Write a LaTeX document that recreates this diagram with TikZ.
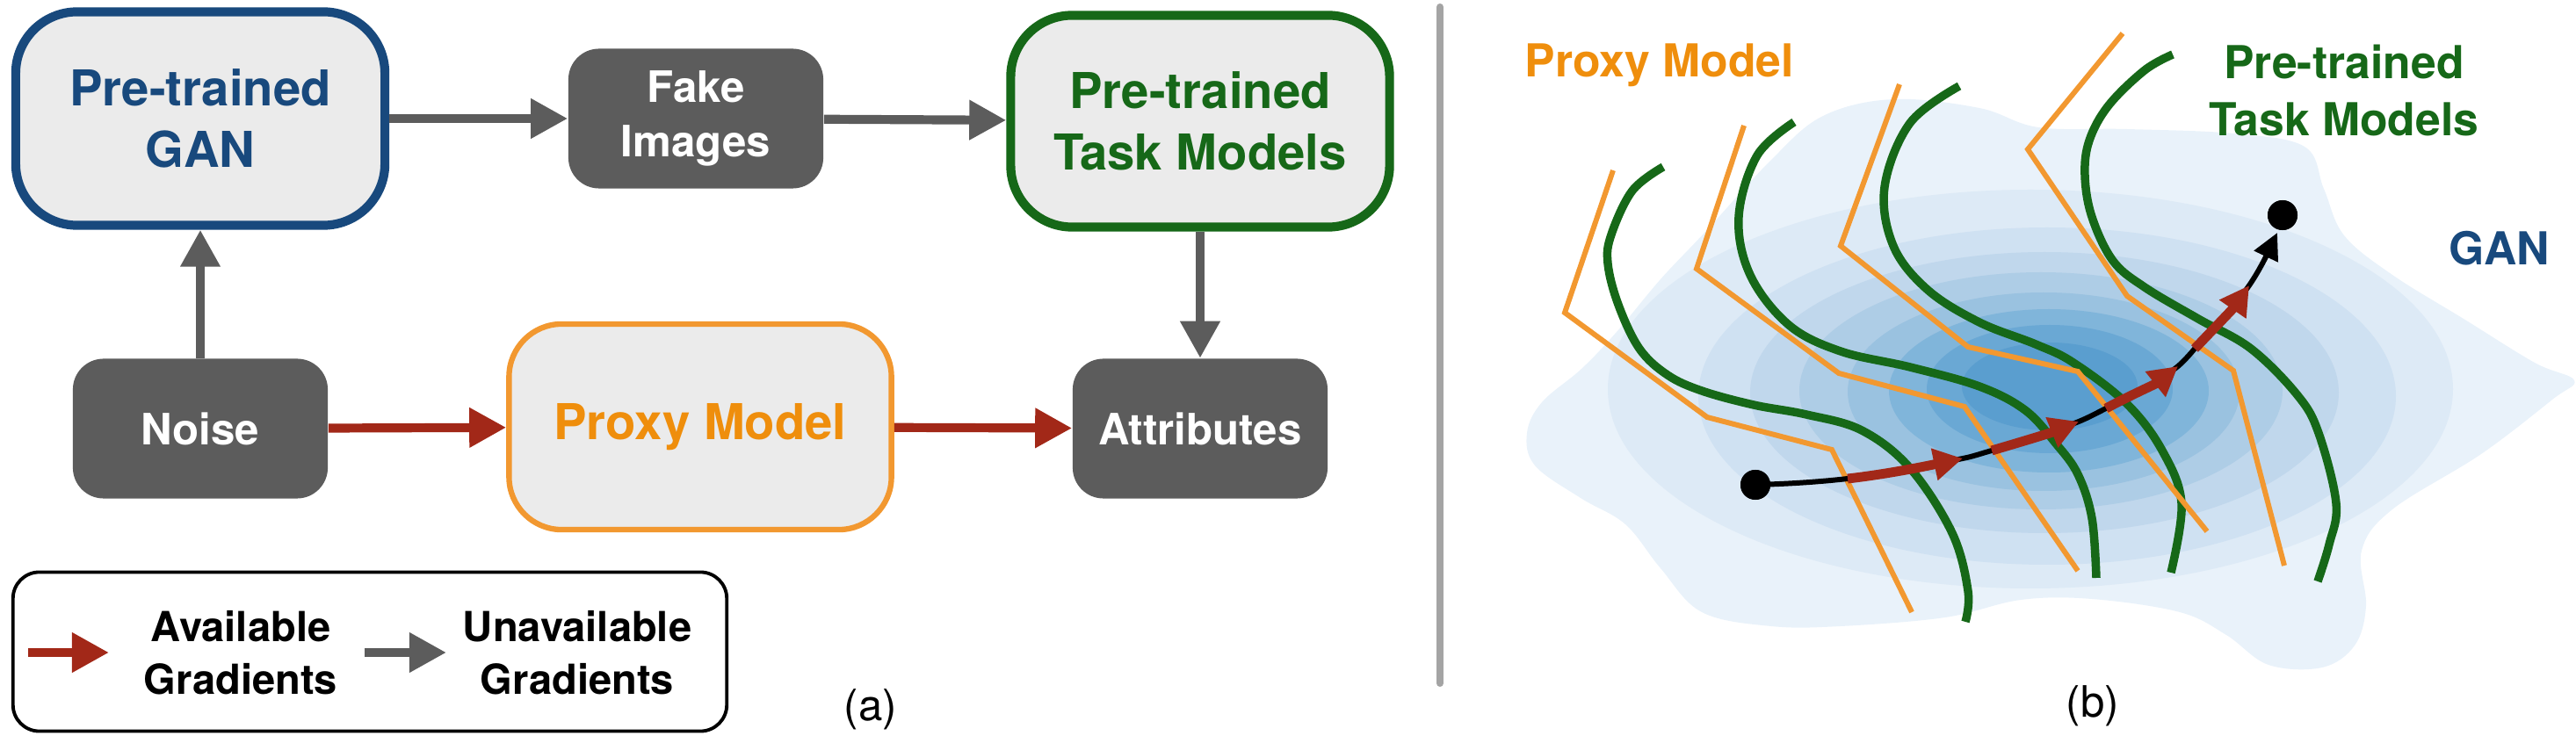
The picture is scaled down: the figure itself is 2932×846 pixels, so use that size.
\documentclass[tikz,border=0pt]{standalone}
\usepackage{fontspec}
\setmainfont{TeX Gyre Heros}
\usetikzlibrary{arrows.meta}
\usetikzlibrary{shapes.geometric,calc}

\definecolor{ganblue}{RGB}{24,73,125}
\definecolor{taskgreen}{RGB}{22,104,24}
\definecolor{proxyorange}{RGB}{239,142,12}
\definecolor{lineorange}{RGB}{242,152,48}
\definecolor{gradred}{RGB}{162,40,24}
\definecolor{boxgray}{RGB}{92,92,92}
\definecolor{boxfill}{RGB}{235,235,235}
\definecolor{rulegray}{RGB}{164,164,164}
\definecolor{levA}{RGB}{233,242,250}
\definecolor{levB}{RGB}{221,234,246}
\definecolor{levC}{RGB}{207,225,242}
\definecolor{levD}{RGB}{192,215,236}
\definecolor{levE}{RGB}{174,205,230}
\definecolor{levF}{RGB}{154,194,224}
\definecolor{levG}{RGB}{128,181,218}
\definecolor{levH}{RGB}{106,168,212}
\definecolor{levI}{RGB}{90,158,207}

\tikzset{
  modelbox/.style={draw, fill=boxfill, line width=2.9pt, rounded corners=0.7cm, inner sep=0pt, align=center, font=\bfseries\fontsize{16pt}{20pt}\selectfont},
  databox/.style={fill=boxgray, text=white, rounded corners=0.35cm, minimum width=2.9cm, minimum height=1.59cm, inner sep=0pt, align=center, font=\bfseries\fontsize{14pt}{17.6pt}\selectfont},
  proxybox/.style={draw=lineorange, fill=boxfill, line width=1.8pt, rounded corners=0.6cm, inner sep=0pt, text=proxyorange, font=\bfseries\fontsize{16pt}{20pt}\selectfont},
  nograd/.style={draw=boxgray, line width=2.9pt, -{Triangle[length=4.2mm, width=4.3mm]}},
  okgrad/.style={draw=gradred, line width=2.9pt, -{Triangle[length=4.2mm, width=4.3mm]}},
  legendtext/.style={align=center, font=\bfseries\fontsize{13.4pt}{17pt}\selectfont},
  paneltag/.style={font=\fontsize{14pt}{17pt}\selectfont},
  labeltext/.style={align=center, font=\bfseries\fontsize{14.7pt}{18.5pt}\selectfont},
  taskline/.style={draw=taskgreen, line width=2.7pt},
  proxyline/.style={draw=lineorange, line width=1.7pt},
  pathline/.style={draw=black, line width=1.7pt},
  gradstep/.style={draw=gradred, line width=3.1pt, -{Triangle[length=3.3mm, width=3.5mm]}},
  endpt/.style={circle, fill=black, minimum size=3.4mm, inner sep=0pt}
}

\begin{document}
\begin{tikzpicture}[x=0.01cm, y=-0.01cm]
	\useasboundingbox (0,0) rectangle (2932,846);

	% (a) pipeline
	\node[modelbox, draw=ganblue, text=ganblue, minimum width=4.2cm, minimum height=2.43cm] (gan) at (228,135) {Pre-trained\\GAN};
	\node[databox] (fake) at (792,135) {Fake\\Images};
	\node[modelbox, draw=taskgreen, text=taskgreen, minimum width=4.31cm, minimum height=2.41cm] (task) at (1366,138) {Pre-trained\\Task Models};
	\node[databox] (noise) at (228,488) {Noise};
	\node[proxybox, minimum width=4.35cm, minimum height=2.34cm] (proxy) at (797,486) {Proxy Model};
	\node[databox] (attr) at (1366,488) {Attributes};

	\draw[nograd] (noise) -- (gan);
	\draw[nograd] (gan) -- (fake);
	\draw[nograd] (fake) -- (task);
	\draw[nograd] (task) -- (attr);
	\draw[okgrad] (noise) -- (proxy);
	\draw[okgrad] (proxy) -- (attr);

	% legend
	\node[draw=black, line width=1.1pt, rounded corners=0.3cm, minimum width=8.12cm, minimum height=1.81cm] (legend) at (421,742) {};
	\coordinate (okA) at (32,743);
	\coordinate (okB) at (124,743);
	\coordinate (noA) at (415,743);
	\coordinate (noB) at (508,743);
	\draw[okgrad] (okA) -- (okB);
	\draw[nograd] (noA) -- (noB);
	\node[legendtext] (oktext) at (274,743) {Available\\Gradients};
	\node[legendtext] (notext) at (657,743) {Unavailable\\Gradients};
	\node[paneltag] (taga) at (991,808) {(a)};

	% divider
	\coordinate (ruleA) at (1639,8);
	\coordinate (ruleB) at (1639,778);
	\draw[rulegray, line width=2.3pt, line cap=round] (ruleA) -- (ruleB);

	% (b) GAN density
	\fill[levA] plot[smooth cycle, tension=0.6] coordinates {(1738,493) (1755,458) (1800,420) (1840,378) (1890,318) (1940,265) (2016,182) (2075,132) (2155,113) (2253,123) (2320,145) (2421,147) (2542,152) (2623,167) (2645,215) (2668,268) (2723,313) (2804,363) (2885,413) (2930,433) (2905,455) (2824,517) (2723,580) (2688,627) (2693,690) (2680,735) (2643,760) (2582,757) (2534,723) (2481,697) (2381,682) (2300,683) (2214,703) (2095,713) (2016,713) (1937,697) (1890,647) (1850,597) (1799,567) (1747,530)};
	\fill[levB] (2311,443) ellipse [x radius=481, y radius=227];
	\fill[levC] (2330,451) ellipse [x radius=397, y radius=192];
	\fill[levD] (2327,447) ellipse [x radius=335, y radius=160];
	\fill[levE] (2323,445) ellipse [x radius=275, y radius=135];
	\fill[levF] (2326,446) ellipse [x radius=223, y radius=113];
	\fill[levG] (2332,445) ellipse [x radius=182, y radius=93];
	\fill[levH] (2333,443) ellipse [x radius=140, y radius=73];
	\fill[levI] (2333,440) ellipse [x radius=100, y radius=50];

	% task model boundaries
	\draw[taskline] plot[smooth, tension=0.6] coordinates {(1893,190) (1858,217) (1834,267) (1830,300) (1842,347) (1866,397) (1898,427) (1937,445) (1996,461) (2056,472) (2119,490) (2174,533) (2222,607) (2240,673) (2237,708)};
	\draw[taskline] plot[smooth, tension=0.6] coordinates {(2042,139) (2000,177) (1979,247) (1992,313) (2036,370) (2095,400) (2174,418) (2253,440) (2305,467) (2340,505) (2365,540) (2381,590) (2386,658)};
	\draw[taskline] plot[smooth, tension=0.6] coordinates {(2230,98) (2174,140) (2145,213) (2155,280) (2194,330) (2253,367) (2317,392) (2360,413) (2421,460) (2461,513) (2483,573) (2471,652)};
	\draw[taskline] plot[smooth, tension=0.6] coordinates {(2473,62) (2441,80) (2400,120) (2378,160) (2373,200) (2381,247) (2405,297) (2441,327) (2502,363) (2562,397) (2615,450) (2639,493) (2659,573) (2651,620) (2638,662)};

	% proxy model boundaries
	\draw[proxyline] (1836,194) -- (1781,356) -- (1943,475) -- (2085,512) -- (2176,697);
	\draw[proxyline] (1985,143) -- (1931,306) -- (2093,425) -- (2236,463) -- (2365,650);
	\draw[proxyline] (2162,96) -- (2095,280) -- (2240,395) -- (2365,423) -- (2512,605);
	\draw[proxyline] (2416,38) -- (2308,170) -- (2421,337) -- (2542,422) -- (2600,644);

	% trajectory
	\node[endpt] (z0) at (1998,552) {};
	\node[endpt] (z1) at (2598,245) {};
	\coordinate (r1s) at (2103,545);
	\coordinate (r1t) at (2234,522);
	\coordinate (r2s) at (2267,513);
	\coordinate (r2t) at (2366,480);
	\coordinate (r3s) at (2397,465);
	\coordinate (r3t) at (2479,417);
	\coordinate (r4s) at (2498,397);
	\coordinate (r4t) at (2560,325);
	\coordinate (zt) at (2592,265);
	\draw[pathline, -{Triangle[length=3mm, width=2.9mm]}] (z0.center) .. controls +(35,-1) and +(-35,4) .. (r1s)
		.. controls +(44,-5) and +(-43,9) .. (r1t)
		.. controls +(11,-2) and +(-11,3) .. (r2s)
		.. controls +(34,-10) and +(-32,13) .. (r2t)
		.. controls +(10,-4) and +(-10,5) .. (r3s)
		.. controls +(28,-15) and +(-25,20) .. (r3t)
		.. controls +(7,-6) and +(-6,7) .. (r4s)
		.. controls +(22,-23) and +(-18,26) .. (r4t)
		.. controls +(13,-19) and +(-10,21) .. (zt);
	\draw[gradstep] (r1s) .. controls +(44,-5) and +(-43,9) .. (r1t);
	\draw[gradstep] (r2s) .. controls +(34,-10) and +(-32,13) .. (r2t);
	\draw[gradstep] (r3s) .. controls +(28,-15) and +(-25,20) .. (r3t);
	\draw[gradstep] (r4s) .. controls +(22,-23) and +(-18,26) .. (r4t);
	\node[endpt] at (z0) {};
	\node[endpt] at (z1) {};

	% labels
	\node[labeltext, text=proxyorange] (proxylabel) at (1889,74) {Proxy Model};
	\node[labeltext, text=taskgreen] (tasklabel) at (2668,103) {Pre-trained\\Task Models};
	\node[labeltext, text=ganblue] (ganlabel) at (2845,283) {GAN};
	\node[paneltag] (tagb) at (2382,804) {(b)};
\end{tikzpicture}
\end{document}
